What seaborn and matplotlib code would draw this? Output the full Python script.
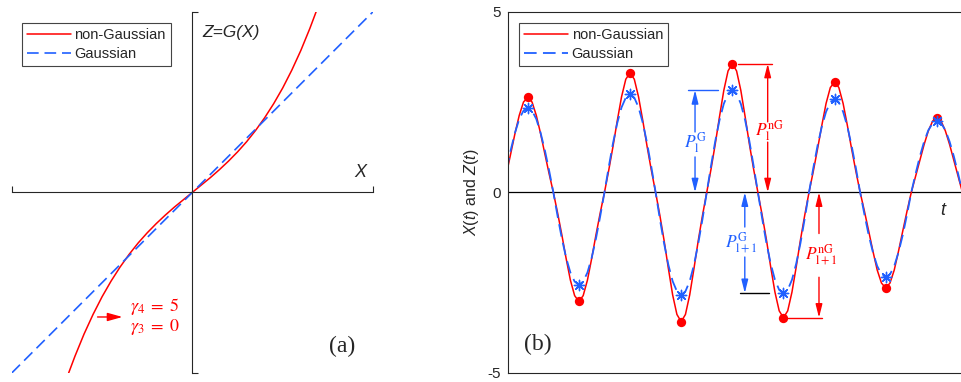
import numpy as np
import pandas as pd
import seaborn as sns
import matplotlib
matplotlib.use("Agg")
import matplotlib.pyplot as plt

RED = "#ff0000"
BLUE = "#2060ff"

# (a) transformation Z = G(X)
x_map = [-0.685, -0.65, -0.6, -0.55, -0.5, -0.45, -0.4, -0.35, -0.3, -0.25, -0.2, -0.15, -0.1, -0.05,
         0.0, 0.05, 0.1, 0.15, 0.2, 0.25, 0.3, 0.35, 0.4, 0.45, 0.5, 0.55, 0.6, 0.65, 0.685]
z_map = [-1.0, -0.907, -0.785, -0.676, -0.578, -0.491, -0.413, -0.343, -0.28, -0.224, -0.173, -0.126, -0.082, -0.041,
         0.0, 0.041, 0.082, 0.126, 0.173, 0.224, 0.28, 0.343, 0.413, 0.491, 0.578, 0.676, 0.785, 0.907, 1.0]
x_lin = [-1.0, 1.0]
z_lin = [-1.0, 1.0]

# (b) sampled time series (12 samples per half cycle)
gauss = [0.61, 1.17, 1.65, 2.03, 2.26, 2.34, 2.26, 2.03, 1.65, 1.17, 0.61,
         0.0, -0.66, -1.28, -1.81, -2.22, -2.47, -2.56, -2.47, -2.22, -1.81, -1.28, -0.66,
         0.0, 0.70, 1.36, 1.92, 2.35, 2.62, 2.71, 2.62, 2.35, 1.92, 1.36, 0.70,
         0.0, -0.74, -1.42, -2.01, -2.46, -2.74, -2.84, -2.74, -2.46, -2.01, -1.42, -0.74,
         0.0, 0.73, 1.42, 2.00, 2.45, 2.73, 2.83, 2.73, 2.45, 2.00, 1.42, 0.73,
         0.0, -0.72, -1.40, -1.97, -2.42, -2.70, -2.79, -2.70, -2.42, -1.97, -1.40, -0.72,
         0.0, 0.67, 1.29, 1.82, 2.23, 2.49, 2.58, 2.49, 2.23, 1.82, 1.29, 0.67,
         0.0, -0.61, -1.18, -1.66, -2.04, -2.27, -2.35, -2.27, -2.04, -1.66, -1.18, -0.61,
         0.0, 0.51, 0.99, 1.40, 1.72, 1.91, 1.98, 1.91, 1.72, 1.40, 0.99, 0.51,
         0.0]
nongauss = [0.52, 1.07, 1.63, 2.13, 2.50, 2.63, 2.50, 2.13, 1.63, 1.07, 0.52,
            0.0, -0.57, -1.18, -1.83, -2.43, -2.86, -3.02, -2.86, -2.43, -1.83, -1.18, -0.57,
            0.0, 0.61, 1.27, 1.98, 2.64, 3.13, 3.31, 3.13, 2.64, 1.98, 1.27, 0.61,
            0.0, -0.64, -1.34, -2.11, -2.84, -3.38, -3.58, -3.38, -2.84, -2.11, -1.34, -0.64,
            0.0, 0.64, 1.34, 2.10, 2.82, 3.36, 3.56, 3.36, 2.82, 2.10, 1.34, 0.64,
            0.0, -0.63, -1.31, -2.06, -2.76, -3.28, -3.47, -3.28, -2.76, -2.06, -1.31, -0.63,
            0.0, 0.58, 1.20, 1.85, 2.46, 2.90, 3.06, 2.90, 2.46, 1.85, 1.20, 0.58,
            0.0, -0.52, -1.07, -1.63, -2.15, -2.51, -2.65, -2.51, -2.15, -1.63, -1.07, -0.52,
            0.0, 0.44, 0.88, 1.32, 1.70, 1.97, 2.07, 1.97, 1.70, 1.32, 0.88, 0.44,
            0.0]
legend_labels = ["non-Gaussian", "Gaussian"]

sns.set_style("ticks")
plt.rcParams["font.family"] = ["Liberation Sans", "DejaVu Sans"]
plt.rcParams["mathtext.fontset"] = "custom"
plt.rcParams["mathtext.rm"] = "Liberation Sans"
plt.rcParams["mathtext.it"] = "Liberation Sans:italic"
plt.rcParams["axes.unicode_minus"] = False

fig = plt.figure(figsize=(9.62, 3.82), dpi=100)
axa = fig.add_axes([0.0122, 0.0236, 0.3756, 0.9458])
axb = fig.add_axes([0.5278, 0.0236, 0.4722, 0.9458])
spine_col = "#262626"

# ---- panel (a)
sns.lineplot(x=x_map, y=z_map, ax=axa, color=RED, lw=1.1, label=legend_labels[0])
sns.lineplot(x=x_lin, y=z_lin, ax=axa, color=BLUE, lw=1.2, linestyle=(0, (7, 3.5)), label=legend_labels[1])
axa.set_xlim(-1, 1)
axa.set_ylim(-1, 1)
for s in ["top", "right"]:
    axa.spines[s].set_visible(False)
for s in ["left", "bottom"]:
    axa.spines[s].set_position("zero")
    axa.spines[s].set_color(spine_col)
    axa.spines[s].set_linewidth(0.8)
axa.set_xticks([-1, 1])
axa.set_yticks([-1, 1])
axa.set_xticklabels([])
axa.set_yticklabels([])
axa.tick_params(direction="in", length=4, width=0.8, color=spine_col, left=True, bottom=True)
axa.set_xlabel("")
axa.set_ylabel("")

axa.text(0.055, 0.884, "Z=G(X)", style="italic", fontsize=12.5, ha="left", va="center", color=spine_col)
axa.text(0.928, 0.11, "X", style="italic", fontsize=13, ha="center", va="center", color=spine_col)
axa.text(0.831, -0.851, "(a)", family="Liberation Serif", fontsize=17, ha="center", va="center")
axa.annotate("", xy=(-0.387, -0.69), xytext=(-0.525, -0.69),
             arrowprops=dict(arrowstyle="-|>,head_length=0.9,head_width=0.25", color=RED, lw=1,
                             shrinkA=0, shrinkB=0, mutation_scale=10))
axa.text(-0.345, -0.69, r"$\gamma_4\;=\;5$" + "\n" + r"$\gamma_3\;=\;0$", color=RED, fontsize=13,
         math_fontfamily="stix", ha="left", va="center", linespacing=1.0)

# ---- panel (b)
t = np.arange(1, len(gauss) + 1)
g = np.array(gauss)
ng = np.array(nongauss)
sns.lineplot(x=t, y=ng, ax=axb, color=RED, lw=1.1, label=legend_labels[0])
sns.lineplot(x=t, y=g, ax=axb, color=BLUE, lw=1.3, linestyle=(0, (7, 3.5)), label=legend_labels[1])

a = np.abs(g)
ext = np.where((a[1:-1] >= a[:-2]) & (a[1:-1] >= a[2:]) & (a[1:-1] > 0))[0] + 1
sns.scatterplot(x=t[ext], y=ng[ext], ax=axb, color=RED, marker="o", s=45, linewidth=0, zorder=4)
sns.scatterplot(x=t[ext], y=g[ext], ax=axb, color=BLUE, marker=(8, 2, 0), s=55, linewidth=1.0, zorder=5)

axb.axhline(0, color="black", lw=0.9, zorder=1)
axb.set_xlim(1.3, 107.9)
axb.set_ylim(-5, 5)
axb.set_xticks([])
axb.set_yticks([-5, 0, 5])
axb.set_yticklabels(["-5", "0", "5"])
axb.tick_params(axis="y", length=0, pad=5, labelsize=11, labelcolor=spine_col)
axb.spines["right"].set_visible(False)
for s in ["top", "bottom", "left"]:
    axb.spines[s].set_color(spine_col)
    axb.spines[s].set_linewidth(0.8)
axb.set_xlabel("")
axb.set_ylabel(r"$X(t)$ and $Z(t)$", fontsize=11.5, color=spine_col)
axb.yaxis.set_label_coords(-0.058, 0.5)
axb.text(103.4, -0.5, "t", style="italic", fontsize=13, ha="center", va="center", color=spine_col)
axb.text(8.3, -4.21, "(b)", family="Liberation Serif", fontsize=17, ha="center", va="center")

pk, tr = ext[4], ext[5]
arrow_kw = dict(arrowstyle="-|>,head_length=0.8,head_width=0.2", lw=1, shrinkA=0, shrinkB=0, mutation_scale=10)


def bracket(x, y_from, y_to, col):
    axb.annotate("", xy=(x, y_to), xytext=(x, y_from), arrowprops=dict(color=col, **arrow_kw))


# P_l^G
axb.plot([43.7, 50.7], [g[pk], g[pk]], color=BLUE, lw=1)
bracket(45.25, 1.67, g[pk], BLUE)
bracket(45.25, 0.98, 0, BLUE)
axb.text(45.4, 1.39, r"$P_{\mathrm{l}}^{\mathrm{G}}$", color=BLUE, fontsize=12.5, math_fontfamily="stix",
         ha="center", va="center")
# P_l^nG
axb.plot([55.4, 63.3], [ng[pk], ng[pk]], color=RED, lw=1)
bracket(62.3, 1.95, ng[pk], RED)
bracket(62.3, 1.39, 0, RED)
axb.text(62.7, 1.72, r"$P_{\mathrm{l}}^{\mathrm{nG}}$", color=RED, fontsize=12.5, math_fontfamily="stix",
         ha="center", va="center")
# P_{l+1}^G
axb.plot([55.8, 62.5], [g[tr], g[tr]], color="black", lw=1)
bracket(56.93, -0.96, 0, BLUE)
bracket(56.93, -1.79, g[tr], BLUE)
axb.text(56.2, -1.42, r"$P_{\mathrm{l+1}}^{\mathrm{G}}$", color=BLUE, fontsize=12.5, math_fontfamily="stix",
         ha="center", va="center")
# P_{l+1}^nG
axb.plot([67.1, 75.0], [ng[tr], ng[tr]], color=RED, lw=1)
bracket(74.34, -1.14, 0, RED)
bracket(74.34, -2.35, ng[tr], RED)
axb.text(74.8, -1.75, r"$P_{\mathrm{l+1}}^{\mathrm{nG}}$", color=RED, fontsize=12.5, math_fontfamily="stix",
         ha="center", va="center")

for ax, x0 in [(axa, 0.0285), (axb, 0.0249)]:
    leg = ax.legend(loc="upper left", bbox_to_anchor=(x0, 0.9687), borderaxespad=0, frameon=True,
                    fancybox=False, edgecolor="#444444", framealpha=1, handlelength=3.0,
                    handletextpad=0.25, borderpad=0.35, labelspacing=0.35, fontsize=10.5)
    leg.get_frame().set_linewidth(0.8)

fig.savefig("out.png", dpi=100)
